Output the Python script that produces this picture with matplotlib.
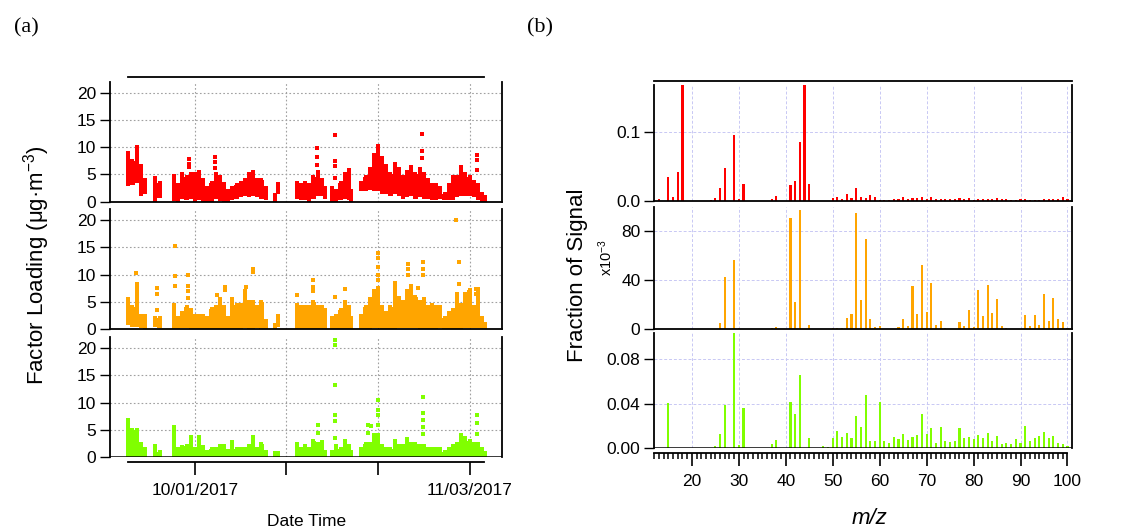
import numpy as np
import matplotlib
matplotlib.use("Agg")
import matplotlib.pyplot as plt
import matplotlib.dates as mdates
from matplotlib.ticker import FixedLocator, MultipleLocator

plt.rcParams["font.family"] = ["Liberation Sans", "DejaVu Sans"]
plt.rcParams["mathtext.fontset"] = "custom"
plt.rcParams["mathtext.rm"] = "Liberation Sans"
plt.rcParams["mathtext.it"] = "Liberation Sans:italic"

# ---------------- (a) factor time series ----------------
# days relative to 2017-10-01, one column per ~half day
bin_day = [-8.0, -7.5, -7.0, -6.5, -6.0,
           -4.75, -4.25,
           -2.5, -2.0, -1.5, -1.0, -0.5, 0.0, 0.5, 1.0,
           1.5, 2.0, 2.5, 3.0, 3.5, 4.0,
           4.5, 5.0, 5.5, 6.0, 6.5, 7.0, 7.5, 8.0, 8.5,
           9.6, 10.0,
           12.25, 12.75, 13.25, 13.75, 14.25, 14.75, 15.25, 15.6,
           16.5, 17.0, 17.5, 18.0, 18.5, 18.8,
           20.0, 20.5, 21.0, 21.5, 22.0, 22.5, 23.0, 23.5, 24.0, 24.5,
           25.0, 25.5, 26.0, 26.5, 27.0, 27.5, 28.0, 28.5, 29.0, 29.5,
           30.0, 30.5, 31.0, 31.5, 32.0, 32.5, 33.0, 33.5, 34.0, 34.5, 34.8]

red_hi = [9.0, 7.5, 10.0, 6.5, 4.0,
          4.3, 3.5,
          4.8, 3.0, 5.0, 4.5, 5.0, 5.0, 5.5, 4.0,
          2.5, 3.5, 5.0, 4.5, 3.3, 2.0,
          2.5, 3.0, 3.5, 4.0, 5.0, 5.5, 4.0, 4.0, 2.5,
          1.2, 3.3,
          3.5, 3.0, 3.5, 3.0, 4.5, 5.5, 4.0, 2.5,
          2.5, 2.0, 3.5, 5.0, 5.8, 2.0,
          3.5, 4.5, 6.0, 8.5, 10.2, 8.0, 6.5, 5.0, 7.0, 6.0,
          4.5, 5.5, 6.3, 5.0, 6.0, 5.0, 4.0, 3.0, 3.0, 2.5,
          1.5, 3.0, 4.5, 4.5, 6.3, 5.0, 4.5, 3.7, 3.0, 1.5, 0.8]
red_lo = [2.8, 3.0, 3.5, 1.0, 1.5,
          0.0, 0.6,
          0.2, 0.0, 0.5, 0.3, 0.5, 0.0, 0.3, 0.0,
          0.0, 0.0, 0.5, 0.2, 0.0, 0.0,
          0.3, 0.5, 0.8, 1.0, 0.8, 1.0, 0.8, 0.5, 0.3,
          0.0, 1.5,
          0.5, 0.3, 0.3, 0.0, 0.5, 1.0, 1.0, 0.5,
          0.0, 0.0, 0.3, 0.5, 0.3, 0.0,
          2.0, 2.0, 2.2, 2.0, 2.0, 1.5, 1.5, 1.0, 1.5, 1.0,
          0.5, 0.8, 1.0, 0.5, 0.8, 0.5, 0.5, 0.3, 0.3, 0.5,
          0.3, 0.3, 0.3, 0.8, 1.0, 1.0, 1.0, 0.8, 0.3, 0.0, 0.0]
red_spike_day = [-0.7, -0.7, -0.7, 2.4, 2.4, 2.45, 14.7, 14.7, 14.7,
                 16.8, 16.8, 16.8, 16.8, 27.3, 27.3, 27.3, 33.9, 33.9, 33.9]
red_spike_val = [7.8, 7.0, 6.3, 8.2, 7.2, 6.2, 9.8, 8.2, 6.7,
                 12.3, 7.5, 6.5, 4.4, 12.5, 9.3, 8.0, 8.5, 7.7, 5.8]

orange_hi = [5.5, 4.0, 8.3, 2.5, 2.5,
             2.0, 2.0,
             4.5, 2.0, 3.0, 4.0, 3.5, 2.5, 2.5, 2.5,
             2.0, 3.7, 4.0, 5.5, 4.0, 2.0,
             5.5, 4.5, 4.5, 7.0, 5.0, 5.0, 4.0, 5.0, 1.5,
             0.8, 2.5,
             4.5, 4.0, 4.0, 4.0, 5.0, 4.0, 4.0, 3.5,
             2.0, 2.5, 3.5, 5.0, 4.0, 2.0,
             2.5, 4.0, 5.5, 7.0, 7.5, 4.0, 3.0, 4.0, 8.5, 5.8,
             5.0, 7.0, 8.0, 6.0, 5.0, 5.5, 4.0, 4.5, 4.0, 4.0,
             2.0, 3.0, 3.5, 6.5, 4.5, 6.5, 7.2, 4.0, 7.3, 2.0, 1.0]
orange_lo = [0.8, 0.5, 0.5, 0.2, 0.0,
             0.5, 0.3,
             0.0, 0.0, 0.3, 0.3, 0.0, 0.0, 0.0, 0.0,
             0.0, 0.0, 0.0, 0.0, 0.0, 0.0,
             0.0, 0.0, 0.0, 0.3, 0.0, 0.0, 0.3, 0.0, 0.0,
             0.0, 0.5,
             0.0, 0.0, 0.0, 0.0, 0.0, 0.0, 0.0, 0.0,
             0.0, 0.0, 0.0, 0.0, 0.0, 0.0,
             0.0, 0.0, 0.0, 0.3, 0.3, 0.0, 0.0, 0.0, 0.0, 0.3,
             0.3, 0.3, 0.3, 0.3, 0.0, 0.0, 0.0, 0.0, 0.0, 0.3,
             0.0, 0.0, 0.0, 0.0, 0.0, 0.3, 0.3, 0.3, 0.3, 0.0, 0.0]
orange_spike_day = [-7.1, -4.6, -4.6, -4.6, -2.4, -2.4, -2.4, -0.8, -0.8, -0.8, -0.8,
                    2.6, 3.6, 3.6, 6.2, 7.0, 7.0, 12.3, 14.2, 14.2, 14.2, 16.8, 18.0,
                    21.95, 21.95, 21.95, 21.95, 21.95, 25.6, 25.6, 25.6, 26.8,
                    27.4, 27.4, 27.4, 31.4, 31.7, 31.7, 33.8, 33.8]
orange_spike_val = [10.3, 7.5, 6.5, 3.5, 15.2, 9.7, 8.0, 10.0, 8.0, 7.0, 5.8,
                    6.2, 7.8, 7.2, 7.8, 11.0, 10.5, 6.3, 9.0, 7.7, 7.0, 6.0, 7.3,
                    14.0, 13.0, 11.5, 10.0, 9.0, 12.0, 11.0, 10.0, 7.5,
                    12.4, 11.0, 10.0, 20.0, 12.3, 8.3, 7.3, 6.5]

green_hi = [6.9, 5.0, 5.0, 2.5, 1.5,
            2.0, 1.0,
            5.5, 1.5, 1.8, 2.0, 3.8, 1.5, 3.7, 1.8,
            1.0, 1.5, 1.5, 2.0, 2.0, 1.2,
            2.8, 1.5, 1.5, 1.5, 2.0, 3.7, 1.5, 2.5, 1.0,
            0.8, 0.8,
            2.5, 1.5, 2.0, 1.5, 3.0, 2.5, 2.8, 1.0,
            1.0, 2.0, 1.5, 3.0, 2.0, 1.0,
            1.5, 2.5, 2.5, 4.0, 4.0, 2.0, 1.5, 1.5, 3.0, 2.0,
            2.0, 3.3, 2.5, 2.5, 2.0, 2.0, 1.5, 1.5, 1.5, 1.5,
            1.0, 1.5, 2.0, 2.5, 4.0, 3.5, 3.0, 2.5, 2.5, 1.5, 0.8]
green_lo = [0.0] * len(bin_day)
green_spike_day = [14.8, 14.8, 16.8, 16.8, 16.8, 16.8, 16.8, 16.8, 20.8, 20.8, 21.2,
                   21.95, 21.95, 21.95, 21.95, 27.35, 27.35, 27.35, 27.35, 27.35,
                   33.9, 33.9, 33.9]
green_spike_val = [6.0, 4.5, 21.5, 20.5, 13.3, 7.7, 6.7, 3.5, 6.0, 4.5, 5.7,
                   10.5, 8.6, 7.7, 6.0, 11.0, 8.2, 6.8, 5.5, 4.3,
                   7.8, 6.3, 4.2]

date_ticks = ["2017-10-01", "2017-10-12", "2017-10-23", "2017-11-03"]
date_labels = ["10/01/2017", "", "", "11/03/2017"]

# ---------------- (b) mass spectra ----------------
mz = list(range(13, 101))
red_ms = [0.002, 0.0, 0.035, 0.006, 0.042, 0.170, 0.0, 0.0, 0.0, 0.0,
          0.0, 0.0015, 0.004, 0.019, 0.047, 0.0, 0.096, 0.002, 0.024, 0.0,
          0.0, 0.0, 0.0, 0.0, 0.003, 0.007, 0.0, 0.0, 0.023, 0.029,
          0.086, 0.170, 0.025, 0.0, 0.0, 0.0, 0.0, 0.0045, 0.005, 0.003,
          0.0097, 0.0045, 0.019, 0.006, 0.0035, 0.008, 0.005, 0.001, 0.001, 0.001,
          0.002, 0.003, 0.005, 0.003, 0.004, 0.004, 0.006, 0.003, 0.006, 0.002,
          0.002, 0.002, 0.002, 0.002, 0.004, 0.002, 0.004, 0.001, 0.003, 0.003,
          0.003, 0.002, 0.004, 0.002, 0.002, 0.001, 0.001, 0.002, 0.003, 0.001,
          0.001, 0.001, 0.002, 0.002, 0.003, 0.002, 0.005, 0.002]
orange_ms = [0.3, 0.3, 0.3, 0.3, 0.3, 0.3, 0.0, 0.0, 0.0, 0.0,
             0.0, 0.5, 0.5, 4.9, 42.7, 0.0, 56.0, 1.1, 0.3, 0.0,
             0.0, 0.0, 0.0, 0.0, 1.1, 1.9, 0.0, 0.0, 90.6, 21.8,
             97.0, 0.5, 3.3, 0.0, 0.0, 0.3, 0.3, 1.0, 1.0, 1.0,
             9.3, 12.8, 94.4, 24.0, 73.5, 8.4, 2.2, 2.7, 0.5, 0.5,
             0.3, 1.9, 8.7, 2.4, 35.0, 12.2, 52.5, 14.1, 37.8, 3.3,
             6.5, 1.4, 0.3, 0.5, 5.7, 2.7, 15.5, 2.2, 32.0, 10.9,
             36.0, 13.0, 24.5, 2.4, 1.4, 0.5, 0.5, 0.3, 11.4, 2.4,
             11.7, 3.5, 28.8, 7.0, 25.3, 8.7, 6.0, 1.4]  # x10^-3
green_ms = [0.0006, 0.0, 0.0409, 0.0006, 0.0005, 0.0005, 0.0, 0.0, 0.0, 0.0,
            0.0, 0.0, 0.0018, 0.0131, 0.0385, 0.0, 0.105, 0.0027, 0.036, 0.0,
            0.0, 0.0, 0.0, 0.0, 0.0036, 0.0075, 0.0, 0.0, 0.0412, 0.031,
            0.0657, 0.0005, 0.0096, 0.0, 0.0, 0.0024, 0.0015, 0.009, 0.0152, 0.0101,
            0.0137, 0.009, 0.0293, 0.0188, 0.0475, 0.0066, 0.0066, 0.0418, 0.0066, 0.0045,
            0.0101, 0.0087, 0.0125, 0.0072, 0.0101, 0.0116, 0.0304, 0.0125, 0.0185, 0.0045,
            0.0188, 0.0063, 0.0057, 0.0069, 0.0179, 0.009, 0.0101, 0.0081, 0.0119, 0.0093,
            0.014, 0.0063, 0.0107, 0.0036, 0.0045, 0.0036, 0.0081, 0.0051, 0.02, 0.0063,
            0.0093, 0.0107, 0.0146, 0.009, 0.0113, 0.0045, 0.0042, 0.0018]

RED, ORANGE, GREEN = "#ff0000", "#ffa500", "#80ff00"

fig = plt.figure(figsize=(11.31, 5.31), dpi=100)
W, H = 1131.0, 531.0


def box(x0, x1, y0, y1):
    # pixel box -> figure fraction
    return [x0 / W, 1 - y1 / H, (x1 - x0) / W, (y1 - y0) / H]


t0 = mdates.date2num(np.datetime64("2017-10-01"))
tick_pos = [mdates.date2num(np.datetime64(d)) for d in date_ticks]
span = (t0 - 8.05, t0 + 34.75)

left_boxes = [(81.7, 201.7), (209.3, 329.3), (337.3, 457.3)]
series = [(red_hi, red_lo, red_spike_day, red_spike_val, RED),
          (orange_hi, orange_lo, orange_spike_day, orange_spike_val, ORANGE),
          (green_hi, green_lo, green_spike_day, green_spike_val, GREEN)]

x = t0 + np.array(bin_day)
for i, ((y0, y1), (hi, lo, sd, sv, c)) in enumerate(zip(left_boxes, series)):
    ax = fig.add_axes(box(110, 502, y0, y1))
    hi, lo = np.array(hi), np.array(lo)
    ax.bar(x, hi - lo, bottom=lo, width=0.5, color=c, linewidth=0, zorder=2)
    # top of each column drawn as a marker, like the sampled points
    ax.scatter(x, hi, marker="s", s=8, color=c, linewidths=0, zorder=2)
    ax.scatter(t0 + np.array(sd), sv, marker="s", s=8, color=c, linewidths=0, zorder=2)
    ax.set_xlim(t0 - 10.2, t0 + 36.9)
    ax.set_ylim(0, 22)
    ax.set_yticks([0, 5, 10, 15, 20])
    ax.xaxis.set_major_locator(FixedLocator(tick_pos))
    ax.grid(True, color="#a0a0a0", linestyle=(0, (1.5, 2)), linewidth=0.8, zorder=0)
    ax.set_axisbelow(True)
    ax.tick_params(axis="y", direction="out", length=7, width=1, labelsize=12.5, pad=3)
    for s in ("left", "right", "bottom"):
        ax.spines[s].set_linewidth(1.3)
    if i == 0:
        ax.spines["top"].set_position(("outward", 3.6))
        ax.spines["top"].set_bounds(*span)
        ax.spines["top"].set_linewidth(1.3)
    else:
        ax.spines["top"].set_visible(False)
    if i < 2:
        ax.tick_params(axis="x", length=0, labelbottom=False)
    else:
        ax.axhline(0, color="black", linewidth=1.8, zorder=3)
        ax.spines["bottom"].set_position(("outward", 3.2))
        ax.spines["bottom"].set_bounds(*span)
        ax.set_xticklabels(date_labels)
        ax.tick_params(axis="x", direction="out", length=9.5, width=1.2,
                       labelsize=12.5, pad=6)

# ---------------- right panels ----------------
right_boxes = [(85.0, 200.7), (207.3, 329.3), (333.0, 448.3)]
spectra = [(red_ms, RED, 0.1684, [0, 0.1], ["0.0", "0.1"]),
           (orange_ms, ORANGE, 99.2, [0, 40, 80], ["0", "40", "80"]),
           (green_ms, GREEN, 0.1032, [0, 0.04, 0.08], ["0.00", "0.04", "0.08"])]
for i, ((y0, y1), (vals, c, ymax, yt, ytl)) in enumerate(zip(right_boxes, spectra)):
    ax = fig.add_axes(box(654.3, 1071.7, y0, y1))
    ax.bar(mz, vals, width=0.45, color=c, linewidth=0, zorder=2)
    ax.set_xlim(12, 100.9)
    ax.set_ylim(0, ymax)
    ax.set_yticks(yt)
    ax.set_yticklabels(ytl)
    ax.set_xticks(range(20, 101, 10))
    ax.grid(True, color="#c8c8f4", linestyle=(0, (3, 2)), linewidth=0.7, zorder=0)
    ax.set_axisbelow(True)
    ax.tick_params(axis="y", direction="out", length=7, width=1, labelsize=12.5, pad=3)
    for s in ("left", "right", "bottom"):
        ax.spines[s].set_linewidth(1.3)
    if i == 0:
        ax.spines["top"].set_position(("outward", 2.9))
        ax.spines["top"].set_linewidth(1.3)
    else:
        ax.spines["top"].set_visible(False)
    if i < 2:
        ax.tick_params(axis="x", length=0, labelbottom=False)
    else:
        ax.axhline(0, color="black", linewidth=1.8, zorder=3)
        ax.spines["bottom"].set_position(("outward", 3.2))
        ax.spines["bottom"].set_bounds(12, 100)
        ax.xaxis.set_minor_locator(MultipleLocator(1))
        ax.tick_params(axis="x", which="major", direction="out", length=9,
                       width=1.2, labelsize=12.5, pad=6)
        ax.tick_params(axis="x", which="minor", direction="out", length=4.5, width=1.1)

# ---------------- texts ----------------
fig.text(26 / W, 1 - 28 / H, "(a)", family="Liberation Serif", fontsize=16,
         ha="center", va="center")
fig.text(540 / W, 1 - 28 / H, "(b)", family="Liberation Serif", fontsize=16,
         ha="center", va="center")
fig.text(37 / W, 1 - 265 / H, "Factor Loading (\u03bcg\u00b7m$^{-3}$)", rotation=90,
         fontsize=16, ha="center", va="center")
fig.text(577 / W, 1 - 275 / H, "Fraction of Signal", rotation=90,
         fontsize=16, ha="center", va="center")
fig.text(606 / W, 1 - 258 / H, "x10$^{-3}$", rotation=90,
         fontsize=10.5, ha="center", va="center")
fig.text(307 / W, 1 - 521 / H, "Date Time", fontsize=12.5, ha="center", va="center")
fig.text(870 / W, 1 - 518 / H, "m/z", fontsize=16, style="italic",
         ha="center", va="center")

fig.savefig("out.png", dpi=100)
